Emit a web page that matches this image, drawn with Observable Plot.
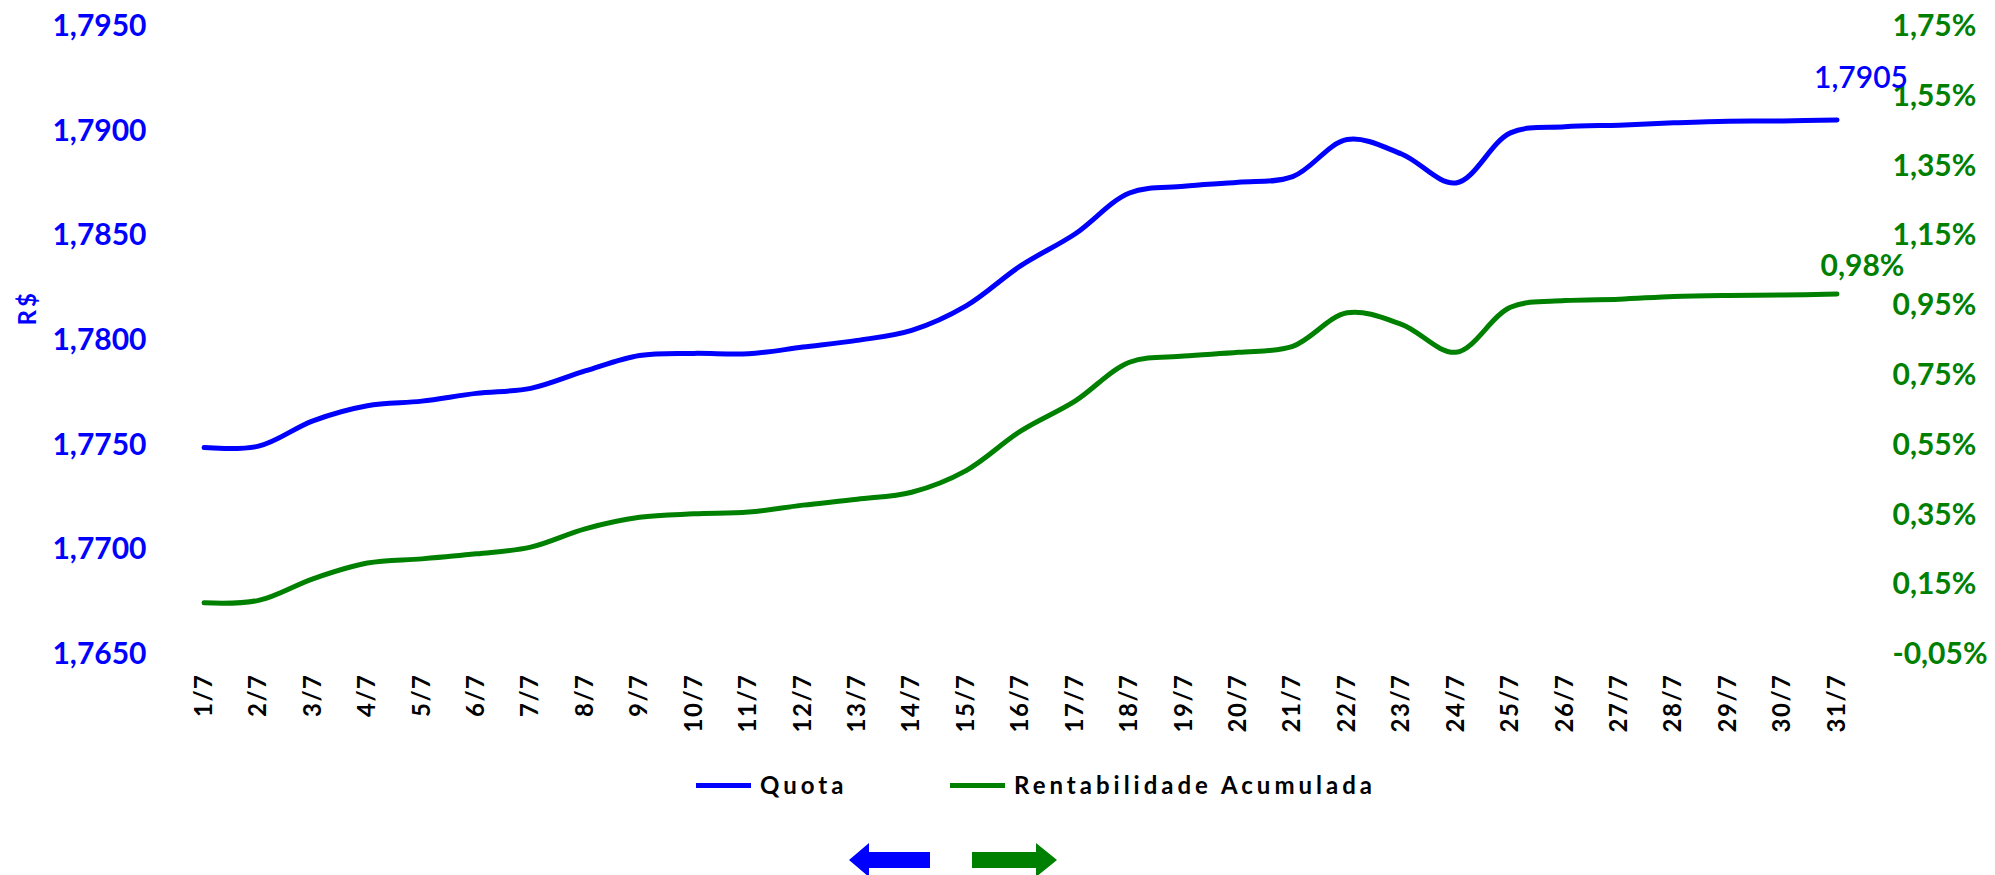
<!DOCTYPE html>
<html>
<head>
<meta charset="utf-8">
<script src="https://cdn.jsdelivr.net/npm/d3@7"></script>
<script src="https://cdn.jsdelivr.net/npm/@observablehq/plot@0.6"></script>
<style>
  html, body { margin: 0; padding: 0; background: #fff; }
  body { position: relative; width: 1995px; height: 875px; overflow: hidden; font-family: Lato, "Noto Sans", sans-serif; }
  #chart { position: absolute; left: 0; top: 0; width: 1995px; height: 760px; }
  #chart svg { display: block; }
  #legend { position: absolute; left: 0; top: 760px; width: 1995px; height: 50px; }
  .sw { position: absolute; top: 23px; width: 55px; height: 5px; }
  .lt { position: absolute; top: 8px; font-size: 24px; font-weight: 700; color: #000; letter-spacing: 4px; line-height: 34px; white-space: nowrap; }
  #arrows { position: absolute; left: 0; top: 830px; display: block; }
</style>
</head>
<body>
<div id="chart"></div>
<div id="legend">
  <div class="sw" style="left:696px;background:#0000ff"></div>
  <div class="lt" id="lt0" style="left:760px"></div>
  <div class="sw" style="left:950px;background:#008000"></div>
  <div class="lt" id="lt1" style="left:1014px"></div>
</div>
<svg id="arrows" width="1995" height="45">
  <polygon points="849,30 869,13 869,22 930,22 930,38 869,38 869,47" fill="#0000ff"></polygon>
  <polygon points="1057,30 1036,13 1036,22 972,22 972,38 1036,38 1036,47" fill="#008000"></polygon>
</svg>
<script>
// ---- data ----
const days = [1,2,3,4,5,6,7,8,9,10,11,12,13,14,15,16,17,18,19,20,21,22,23,24,25,26,27,28,29,30,31];
const quota = [1.77488,1.77495,1.77616,1.77688,1.77710,1.77747,1.77771,1.77854,1.77928,1.77938,
               1.77936,1.77968,1.78000,1.78048,1.78165,1.78356,1.78508,1.78704,1.78736,1.78755,
               1.78782,1.78959,1.78890,1.78752,1.78991,1.79020,1.79028,1.79039,1.79047,1.79048,1.79053];
const rentab = [0.098,0.105,0.167,0.212,0.224,0.2385,0.2575,0.310,0.343,0.353,
                0.358,0.378,0.395,0.415,0.477,0.590,0.676,0.7875,0.805,0.816,
                0.833,0.929,0.896,0.816,0.945,0.964,0.968,0.976,0.979,0.980,0.983];
const leftTicks = [1.7650,1.7700,1.7750,1.7800,1.7850,1.7900,1.7950];
const rightTicks = [-0.05,0.15,0.35,0.55,0.75,0.95,1.15,1.35,1.55,1.75];
const xTickLabels = days.map(d => d + "/7");
const seriesNames = ["Quota","Rentabilidade Acumulada"];
const axisTitle = "R$";

document.getElementById("lt0").textContent = seriesNames[0];
document.getElementById("lt1").textContent = seriesNames[1];

// map the right-axis (%) domain onto the left-axis domain so both share one y scale
const L0 = leftTicks[0], L1 = leftTicks[leftTicks.length-1];
const R0 = rightTicks[0], R1 = rightTicks[rightTicks.length-1];
const toLeft = r => L0 + (r - R0) * (L1 - L0) / (R1 - R0);
const fmtQ = v => v.toFixed(4).replace(".", ",");
const fmtP = v => v.toFixed(2).replace(".", ",") + "%";

const rows = days.map((d, i) => ({day: d, quota: quota[i], rent: rentab[i], rentY: toLeft(rentab[i])}));
const last = rows[rows.length - 1];
const rightTickRows = rightTicks.map(r => ({r, y: toLeft(r)}));

const BLUE = "#0000ff", GREEN = "#008000";
const W = 1995, H = 760;

const chart = Plot.plot({
  width: W,
  height: H,
  marginLeft: 203.6,
  marginRight: 158.5,
  marginTop: 25.8,
  marginBottom: 106,
  style: {fontFamily: "Lato, 'Noto Sans', sans-serif", background: "#fff", overflow: "visible"},
  x: {type: "linear", domain: [days[0], days[days.length-1]], axis: null},
  y: {type: "linear", domain: [L0, L1], axis: null},
  marks: [
    Plot.axisY(leftTicks, {anchor: "left", tickSize: 0, tickPadding: 57.6, tickFormat: fmtQ, label: null,
      fill: BLUE, fontSize: 30, fontWeight: "bold"}),
    Plot.text(rightTickRows, {x: days[days.length-1], y: "y", text: d => fmtP(d.r), textAnchor: "start",
      dx: 55.5, fill: GREEN, fontSize: 30, fontWeight: "bold"}),
    Plot.axisX(days, {anchor: "bottom", tickSize: 0, tickPadding: 19, tickRotate: -90, label: null,
      textAnchor: "end", tickFormat: (d) => xTickLabels[days.indexOf(d)],
      fill: "#000", fontSize: 24, fontWeight: "bold"}),
    Plot.text([axisTitle], {frameAnchor: "left", dx: -176, dy: -15, rotate: -90,
      fill: BLUE, fontSize: 24, fontWeight: "bold"}),
    Plot.line(rows, {x: "day", y: "quota", stroke: BLUE, strokeWidth: 5, curve: "catmull-rom"}),
    Plot.line(rows, {x: "day", y: "rentY", stroke: GREEN, strokeWidth: 5, curve: "catmull-rom"}),
    Plot.text([last], {x: "day", y: "quota", text: d => fmtQ(d.quota), dx: 24, dy: -42,
      fill: BLUE, fontSize: 30, fontWeight: 600}),
    Plot.text([last], {x: "day", y: "rentY", text: d => fmtP(d.rent), dx: 25.5, dy: -27.5,
      fill: GREEN, fontSize: 30, fontWeight: "bold"})
  ]
});
document.getElementById("chart").appendChild(chart);
// letter spacing for the rotated day labels and the axis title, as in the reference
d3.select(chart).selectAll('g[aria-label="x-axis tick label"] text').attr("letter-spacing", "1.5px");
d3.select(chart).selectAll('g[aria-label="text"] text').filter(function() { return this.textContent === axisTitle; })
  .attr("letter-spacing", "3px");
</script>
</body>
</html>
